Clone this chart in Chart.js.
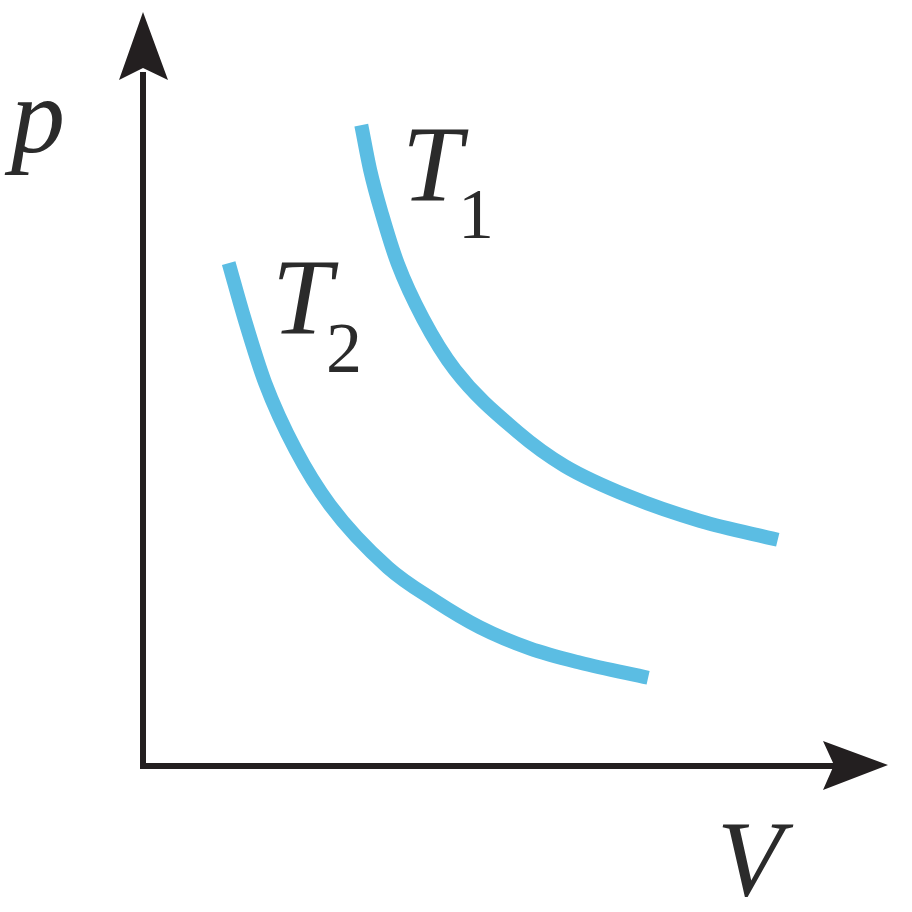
<!DOCTYPE html>
<html>
<head>
<meta charset="utf-8">
<script src="https://cdn.jsdelivr.net/npm/chart.js@4.4.1/dist/chart.umd.min.js"></script>
<style>
  html, body { margin: 0; padding: 0; background: #fff; }
  #wrap { width: 912px; height: 912px; }
</style>
</head>
<body>
<div id="wrap"><canvas id="grafico"></canvas></div>
<script>
// isotermas (V, p em unidades arbitrárias 0..10)
const volumeT1 = [2.93, 3.05, 3.21, 3.42, 3.76, 4.19, 5.03, 5.66, 6.54, 7.48, 8.52];
const pressaoT1 = [8.50, 7.90, 7.31, 6.66, 5.93, 5.25, 4.43, 3.98, 3.57, 3.25, 3.00];
const volumeT2 = [1.15, 1.36, 1.64, 2.05, 2.51, 3.29, 3.92, 4.52, 5.19, 5.87, 6.78];
const pressaoT2 = [6.67, 5.94, 5.08, 4.19, 3.46, 2.63, 2.19, 1.84, 1.56, 1.37, 1.17];
const rotulos = ["T1", "T2"];

const pontos = (xs, ys) => xs.map((x, i) => ({ x, y: ys[i] }));

const corCurva = "#5bbde3";
const corEixo = "#231f20";
const fonteSerif = "'Liberation Serif', 'Times New Roman', serif";

// eixos com setas + letras p, V, T1, T2
const desenhos = {
  id: "desenhos",
  afterDraw(chart) {
    const ctx = chart.ctx;
    const a = chart.chartArea;
    const x0 = a.left, y0 = a.bottom;
    ctx.save();
    ctx.strokeStyle = corEixo;
    ctx.fillStyle = corEixo;
    ctx.lineWidth = 6;
    ctx.lineCap = "butt";

    // eixo p
    ctx.beginPath();
    ctx.moveTo(x0, y0 + 3);
    ctx.lineTo(x0, a.top + 60);
    ctx.stroke();
    ctx.beginPath();
    ctx.moveTo(x0, a.top);
    ctx.lineTo(x0 + 25, a.top + 68);
    ctx.lineTo(x0, a.top + 56);
    ctx.lineTo(x0 - 24, a.top + 68);
    ctx.closePath();
    ctx.fill();

    // eixo V
    ctx.beginPath();
    ctx.moveTo(x0 - 3, y0);
    ctx.lineTo(a.right - 50, y0);
    ctx.stroke();
    ctx.beginPath();
    ctx.moveTo(a.right, y0 - 1);
    ctx.lineTo(a.right - 65, y0 + 24);
    ctx.lineTo(a.right - 54, y0 - 1);
    ctx.lineTo(a.right - 65, y0 - 25);
    ctx.closePath();
    ctx.fill();

    // letras
    ctx.fillStyle = "#2b2b2b";
    ctx.textBaseline = "alphabetic";
    ctx.font = "italic 108px " + fonteSerif;
    ctx.fillText("p", 11, 152);
    ctx.fillText("V", 717, 895);

    const sub = (txt, xT, yT, xS, yS) => {
      ctx.font = "italic 108px " + fonteSerif;
      ctx.fillText(txt[0], xT, yT);
      ctx.font = "72px " + fonteSerif;
      ctx.fillText(txt.slice(1), xS, yS);
    };
    sub(rotulos[0], 402, 200, 458, 238);
    sub(rotulos[1], 272, 333, 326, 372);
    ctx.restore();
  }
};

function desenhar() {
  new Chart(document.getElementById("grafico"), {
    type: "scatter",
    data: {
      datasets: [
        {
          label: rotulos[0],
          data: pontos(volumeT1, pressaoT1),
          showLine: true,
          borderColor: corCurva,
          borderWidth: 14,
          borderCapStyle: "butt",
          cubicInterpolationMode: "monotone",
          pointRadius: 0
        },
        {
          label: rotulos[1],
          data: pontos(volumeT2, pressaoT2),
          showLine: true,
          borderColor: corCurva,
          borderWidth: 14,
          borderCapStyle: "butt",
          cubicInterpolationMode: "monotone",
          pointRadius: 0
        }
      ]
    },
    options: {
      responsive: true,
      maintainAspectRatio: false,
      animation: false,
      layout: { padding: { left: 143, right: 24, top: 12, bottom: 146 } },
      scales: {
        x: { type: "linear", min: 0, max: 10, display: false },
        y: { type: "linear", min: 0, max: 10, display: false }
      },
      plugins: {
        legend: { display: false },
        tooltip: { enabled: false }
      }
    },
    plugins: [desenhos]
  });
}

Promise.all([
  document.fonts.load("italic 108px 'Liberation Serif'"),
  document.fonts.load("72px 'Liberation Serif'")
]).then(desenhar, desenhar);
</script>
</body>
</html>
